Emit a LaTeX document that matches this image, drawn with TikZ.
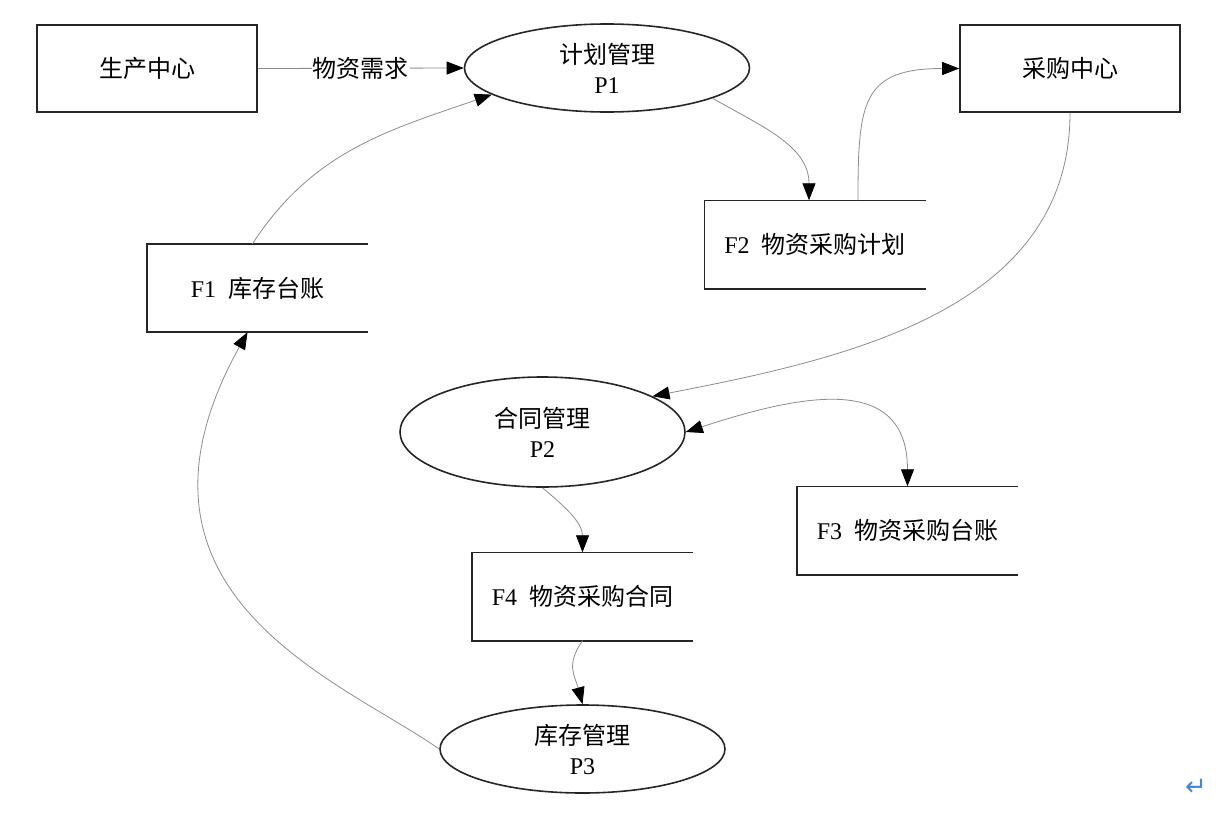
\documentclass[tikz,border=0pt]{standalone}
\usepackage{fontspec}
\setmainfont{Liberation Serif}
\newfontfamily\cjk{Noto Sans CJK SC}
\newfontfamily\symfont{DejaVu Sans}
\definecolor{retblue}{RGB}{66,133,230}
\usetikzlibrary{arrows.meta, shapes.geometric}

\begin{document}
\begin{tikzpicture}[x=1pt,y=1pt,
  >={Triangle[length=17pt,width=13pt,color=black]},
  every node/.style={font=\fontsize{24}{30}\selectfont},
  proc/.style={draw=black!85, line width=1.6pt, ellipse, minimum width=285pt, minimum height=88pt, inner sep=0pt, align=center},
  ent/.style={draw=black!85, line width=1.6pt, minimum width=220pt, minimum height=87pt, inner sep=0pt},
  store/.style={minimum width=221pt, minimum height=88pt, inner sep=0pt},
  flow/.style={draw=black!45, line width=0.8pt, ->}]
\useasboundingbox (0,0) rectangle (1224,-814);

% external entities
\node[ent] (scz) at (147,-68.5) {\cjk 生产中心};
\node[ent] (cgzx) at (1070,-68.5) {\cjk 采购中心};

% processes
\node[proc] (p1) at (607,-68) {{\cjk 计划管理}\\P1};
\node[proc, minimum height=110pt] (p2) at (542.5,-432) {{\cjk 合同管理}\\P2};
\node[proc] (p3) at (582.5,-749) {{\cjk 库存管理}\\P3};

% data stores (open on the right)
\node[store] (f1) at (257.5,-288) {F1\hspace{0.5em}{\cjk 库存台账}};
\node[store] (f2) at (815,-244.5) {F2\hspace{0.5em}{\cjk 物资采购计划}};
\node[store] (f3) at (907.5,-530.5) {F3\hspace{0.5em}{\cjk 物资采购台账}};
\node[store] (f4) at (582.5,-596.5) {F4\hspace{0.5em}{\cjk 物资采购合同}};
\foreach \s in {f1,f2,f3,f4}
  \draw[black!85, line width=1.6pt] (\s.north east) -- (\s.north west) -- (\s.south west) -- (\s.south east);

% flows
\draw[flow] (scz.east) -- node[fill=white, inner sep=1pt] {\cjk 物资需求} (p1.west);
\draw[flow] (p1.-16) to[out=-30, in=90] ([xshift=-6pt]f2.north);
\draw[flow] ([xshift=43pt]f2.north) to[out=90, in=180, looseness=1.5] (cgzx.west);
\draw[flow] (cgzx.south) to[out=-90, in=11] (p2.18);
\draw[flow, <->] (p2.east) to[out=18, in=90, looseness=1.3] (f3.north);
\draw[flow] (p2.south) to[out=-40, in=90] (f4.north);
\draw[flow] (f4.south) to[out=235, in=105, looseness=1.2] (p3.north);
\draw[flow] (p3.west) .. controls +(145:120) and +(241:300) .. ([xshift=-10pt]f1.south);
\draw[flow] ([xshift=-5pt]f1.north) to[out=57, in=199] (p1.193);

\node[text=retblue, font=\symfont\fontsize{26}{26}\selectfont] (ret) at (1196,-787) {↵};
\end{tikzpicture}
\end{document}
